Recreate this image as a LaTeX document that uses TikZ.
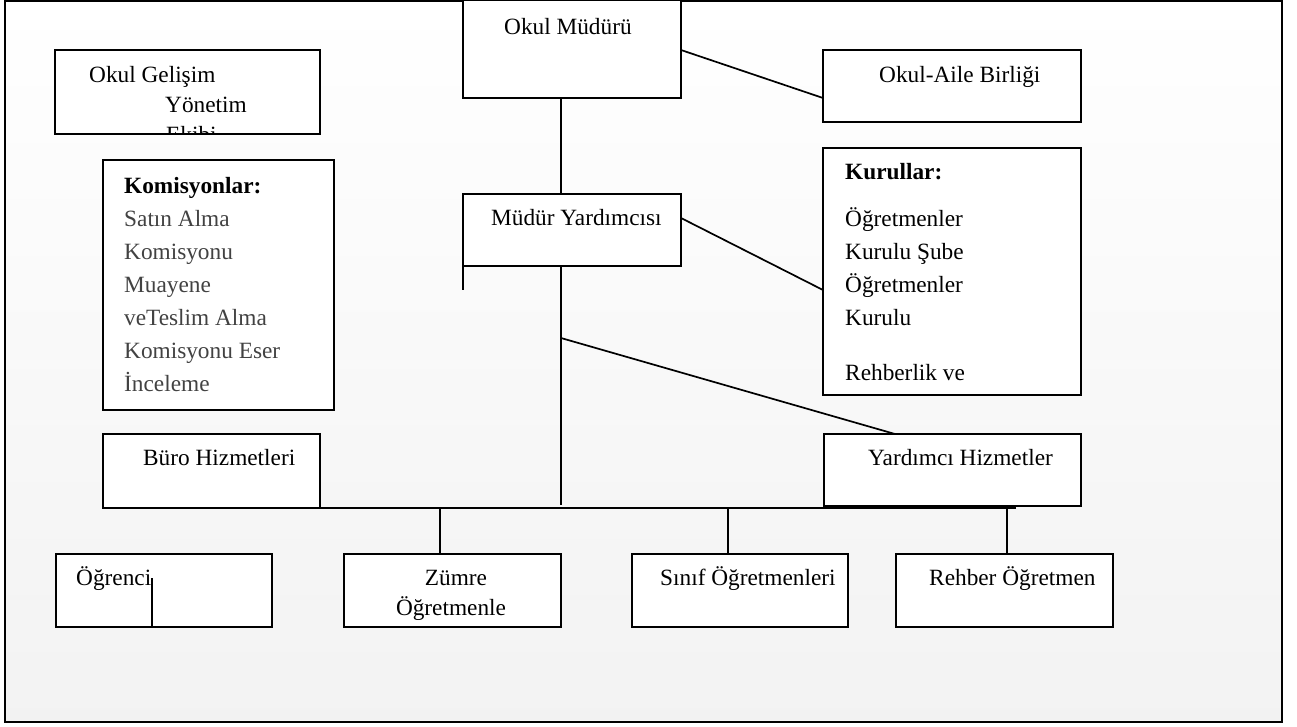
\documentclass[tikz,border=0pt]{standalone}
\usepackage{fontspec}
\setmainfont{Liberation Serif}
\usetikzlibrary{calc}
\begin{document}
\begin{tikzpicture}[x=1pt,y=-1pt,
  box/.style={draw=black, line width=1.8pt, fill=white, rectangle, inner sep=0pt, outer sep=0pt},
  conn/.style={line width=1.7pt},
  txt/.style={anchor=base west, inner sep=0pt, font=\fontsize{23.3}{33}\selectfont},
  btxt/.style={txt, font=\fontsize{23.3}{33}\selectfont\bfseries},
  gtxt/.style={txt, text=black!74}]
\useasboundingbox (0,0) rectangle (1297,726);
\shade[top color=white, bottom color=black!5] (5,1) rectangle (1282,722);
\draw[line width=2.8pt] (5,1) rectangle (1282,722);

% boxes
\node[box, minimum width=265pt, minimum height=84pt] (gelisim) at (187.5,92) {};
\node[box, minimum width=231pt, minimum height=250pt] (komis) at (218.5,285) {};
\node[box, minimum width=218pt, minimum height=98pt] (mudur) at (572,49) {};
\node[box, minimum width=258pt, minimum height=72pt] (aile) at (952,86) {};
\node[box, minimum width=258pt, minimum height=247pt] (kurul) at (952,271.5) {};
\node[box, minimum width=218pt, minimum height=72pt] (yard) at (572,230) {};
\node[box, minimum width=217pt, minimum height=74pt] (buro) at (211.5,471) {};
\node[box, minimum width=257pt, minimum height=72pt] (yrd) at (952.5,470) {};
\node[box, minimum width=216pt, minimum height=73pt] (ogr) at (164,590.5) {};
\node[box, minimum width=217pt, minimum height=73pt] (zumre) at (452.5,590.5) {};
\node[box, minimum width=216pt, minimum height=73pt] (sinif) at (740,590.5) {};
\node[box, minimum width=217pt, minimum height=73pt] (rehber) at (1004.5,590.5) {};

% texts
\node[txt] (tg1) at (89,82) {Okul Gelişim};
\node[txt] (tg2) at (165,112) {Yönetim};
\begin{scope}
\clip ([shift={(1pt,1pt)}]gelisim.south west) rectangle ([shift={(-1pt,-1pt)}]gelisim.north east);
\node[txt] (tg3) at (166,142) {Ekibi};
\end{scope}

\node[btxt] (tk0) at (124,193) {Komisyonlar:};
\node[gtxt] (tk1) at (124,226) {Satın Alma};
\node[gtxt] (tk2) at (124,259) {Komisyonu};
\node[gtxt] (tk3) at (124,292) {Muayene};
\node[gtxt] (tk4) at (124,325) {veTeslim Alma};
\node[gtxt] (tk5) at (124,358) {Komisyonu Eser};
\node[gtxt] (tk6) at (124,391) {İnceleme};

\node[txt] (tm) at (504,34) {Okul Müdürü};
\node[txt] (ta) at (879,82) {Okul-Aile Birliği};
\node[txt] (ty) at (491,225) {Müdür Yardımcısı};

\node[btxt] (tr0) at (845,179) {Kurullar:};
\node[txt] (tr1) at (845,226) {Öğretmenler};
\node[txt] (tr2) at (845,259) {Kurulu Şube};
\node[txt] (tr3) at (845,292) {Öğretmenler};
\node[txt] (tr4) at (845,325) {Kurulu};
\node[txt] (tr5) at (845,380) {Rehberlik ve};

\node[txt] (tb) at (143,465) {Büro Hizmetleri};
\node[txt] (tyh) at (868,465) {Yardımcı Hizmetler};
\node[txt] (to) at (76,585) {Öğrenci};
\node[txt, anchor=base] (tz1) at (456,585) {Zümre};
\node[txt, anchor=base] (tz2) at (451,615) {Öğretmenle};
\node[txt] (ts) at (660,585) {Sınıf Öğretmenleri};
\node[txt] (tre) at (929,585) {Rehber Öğretmen};

% coordinates
\coordinate (sp1) at (561,338);
\coordinate (spEnd) at (561,505);
\coordinate (b1) at (152,508);
\coordinate (b2) at (1016,508);
\coordinate (ysw) at (463,290);
\coordinate (zt) at ([xshift=-12.5pt]zumre.north);
\coordinate (st) at ([xshift=-12pt]sinif.north);
\coordinate (rt) at ([xshift=2.5pt]rehber.north);
\coordinate (ot) at (152,578);

% connectors
\draw[conn] ([yshift=-1pt]mudur.east) -- ([yshift=-12pt]aile.west);
\draw[conn] ([xshift=-11pt]mudur.south) -- ([xshift=-11pt]yard.north);
\draw[conn] ([yshift=12pt]yard.east) -- ([yshift=-18.5pt]kurul.west);
\draw[conn] (yard.south west) -- (yard.south west |- ysw);
\draw[conn] ([xshift=-11pt]yard.south) -- (spEnd);
\draw[conn] (sp1) -- ([xshift=-57.5pt]yrd.north);
\draw[conn] (b1) -- (b2);
\draw[conn] (zt |- b1) -- (zt);
\draw[conn] (st |- b1) -- (st);
\draw[conn] ([yshift=1pt]rt |- b1) -- (rt);
\draw[conn] (ot) -- (ot |- ogr.south);
\end{tikzpicture}
\end{document}
